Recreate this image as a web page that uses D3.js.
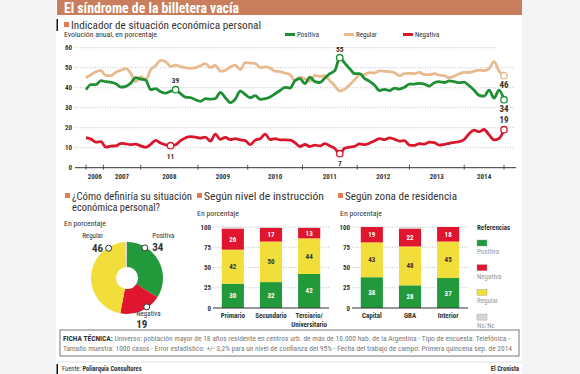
<!DOCTYPE html>
<html>
<head>
<meta charset="utf-8">
<script src="https://cdn.jsdelivr.net/npm/d3@7"></script>
<style>
body { margin: 0; background: #f4f4f4; }
svg { display: block; font-family: "Liberation Sans Narrow", "Roboto Condensed", Roboto, sans-serif; }
</style>
</head>
<body>
<svg id="chart" width="580" height="374"></svg>
<script>
// ---- data ----
var yearLabels = ["2006", "2007", "2008", "2009", "2010", "2011", "2012", "2013", "2014"];
// survey index where each year starts (last one = end of series)
var yearTicks = [0, 3.5, 11, 22.5, 32.5, 43.5, 54.5, 65, 76, 84];

var positiva = [39,41.5,41.5,43.5,43,42.7,42,40.3,40.7,42.3,45,44.3,43.8,39,39.5,38,37.3,38.2,39,37,
  35.3,35,34,33.2,34.5,34.3,34.6,37.6,35,32.5,34.3,38.3,36.6,35,36,34.2,34.5,35.4,37,38.6,
  40.2,39.8,43.5,44.5,42,45.3,43,42.6,44.8,47,48.5,55,52.3,49.5,47,47,44.5,43.2,41.2,38.6,
  39.2,38.5,39.8,39.3,40.2,41.8,41.8,42.2,41.8,40.8,42.5,43,42.6,43.4,43,42.5,42.8,41,38.7,36.2,
  35.8,38.8,34.8,38.8,34];
var regular = [45,46.5,48,48.5,46,46,47.7,48.7,49.5,47.2,43,45.5,44,49,51,53.7,53,50.7,51.3,50.5,
  50,49.7,50,51,52,50,51.2,48.3,48.7,50.3,51.3,49,52.5,52.3,52.2,50,50.4,49.8,48.3,48,
  47.3,46.5,43.5,45.3,44.4,43.3,46.2,45.6,46,43.5,41,38.3,39.3,41.5,44,46.5,46.6,47.5,47.4,48.4,
  48.2,48,47.5,46,47,47.2,47,47.7,46.5,46.5,47,46.3,46,45,45.8,47,47.7,47.6,48.3,48.8,
  48.5,49.5,53,48.3,46];
var negativa = [15,14.3,12.8,13,10.3,10.8,10.9,12.2,11.9,11.5,11.8,10.9,10.2,11.7,13.7,12.3,11.4,11,11.5,13.5,
  15,15.5,15.3,14.8,15.3,13.3,16.8,14.2,15.2,14,14.5,13.9,13.5,11.5,13.8,14.5,16.8,14,14.5,13.9,
  13.9,13.8,12.5,10.6,11.6,10.6,11.3,10.9,12,10.9,9.6,7,9.8,10.3,10.7,11.9,11.5,12.3,13.5,14.5,
  14,14.9,14.2,13.3,13.5,11.3,11.2,12,11.8,12.8,12.5,11.3,11.7,12.2,12.7,13,14.1,17,18.8,18,
  19.1,16.4,13.9,14.6,19];

var donutLabels = ["Positiva", "Negativa", "Regular", "Ns/Nc"];
var donutValues = [34, 19, 46, 1];

var instruccionCats = ["Primario", "Secundario", "Terciario/Universitario"];
var instPositiva = [30, 32, 42];
var instRegular = [42, 50, 44];
var instNegativa = [26, 17, 13];
var instNsNc = [2, 1, 1];

var zonaCats = ["Capital", "GBA", "Interior"];
var zonaPositiva = [38, 28, 37];
var zonaRegular = [43, 48, 45];
var zonaNegativa = [19, 22, 18];
var zonaNsNc = [0, 2, 0];

var barTicks = [0, 25, 50, 75, 100];
var lineTicks = [0, 10, 20, 30, 40, 50, 60];

// ---- colours ----
var cLine = { positiva: "#1f8f33", regular: "#e8ba8d", negativa: "#d8172d" };
var cBar = { positiva: "#22993b", regular: "#f2de3a", negativa: "#e0162e", nsnc: "#d6d6d6" };
var cOrange = "#e07b53";
var cText = "#333";

var svg = d3.select("#chart");

// squeeze a text to the width it has in the print
function fit(t, w) {
  return t.attr("textLength", w).attr("lengthAdjust", "spacingAndGlyphs");
}

svg.append("rect").attr("x", 56).attr("y", 0).attr("width", 466).attr("height", 374).attr("fill", "#fff");

// title bar
svg.append("rect").attr("x", 57).attr("y", 0).attr("width", 465).attr("height", 15).attr("fill", "#c97f5e");
fit(svg.append("text").attr("x", 64).attr("y", 12.5).attr("fill", "#fff")
  .attr("font-size", 14.5).attr("font-weight", "bold").text("El síndrome de la billetera vacía"), 175);

function heading(x, y, lines, widths) {
  svg.append("rect").attr("x", x).attr("y", y - 6.5).attr("width", 5).attr("height", 5).attr("fill", cOrange);
  lines.forEach(function(l, i) {
    fit(svg.append("text").attr("x", x + 7).attr("y", y + i * 11.5).attr("font-size", lines.length > 1 ? 10.8 : 11.5)
      .attr("fill", cText).text(l), widths[i]);
  });
}
function small(x, y, t, w) {
  var s = svg.append("text").attr("x", x).attr("y", y).attr("font-size", 7).attr("fill", cText).text(t);
  if (w) fit(s, w);
}

svg.append("rect").attr("x", 56.5).attr("y", 19).attr("width", 1.5).attr("height", 12).attr("fill", "#111");
heading(64, 28.5, ["Indicador de situación económica personal"], [190]);
small(64, 36.5, "Evolución anual, en porcentaje", 93);

// ---- line chart ----
var x = d3.scaleLinear().domain([0, 84]).range([86, 504]);
var y = d3.scaleLinear().domain([0, 60]).range([167.7, 47.7]);

var grid = svg.append("g");
lineTicks.forEach(function(t) {
  if (t > 0) {
    grid.append("line").attr("x1", 75).attr("x2", t == 60 ? 496 : 515).attr("y1", y(t)).attr("y2", y(t))
      .attr("stroke", "#999").attr("stroke-width", 0.6).attr("stroke-dasharray", "1,1.5");
  }
  grid.append("text").attr("x", 72).attr("y", y(t) + 2.5).attr("text-anchor", "end")
    .attr("font-size", 7).attr("font-weight", "bold").attr("fill", cText).text(t);
});
svg.append("line").attr("x1", 75).attr("x2", 516).attr("y1", y(0)).attr("y2", y(0))
  .attr("stroke", "#333").attr("stroke-width", 1);
yearTicks.forEach(function(t) {
  svg.append("line").attr("x1", x(t)).attr("x2", x(t)).attr("y1", y(0) - 3).attr("y2", y(0) + 2)
    .attr("stroke", "#333").attr("stroke-width", 0.8);
});
yearLabels.forEach(function(l, i) {
  svg.append("text").attr("x", (x(yearTicks[i]) + x(yearTicks[i + 1])) / 2).attr("y", 178.5)
    .attr("text-anchor", "middle").attr("font-size", 7).attr("font-weight", "bold").attr("fill", cText).text(l);
});

var line = d3.line().x(function(d, i) { return x(i); }).y(function(d) { return y(d); }).curve(d3.curveMonotoneX);
[["regular", regular], ["positiva", positiva], ["negativa", negativa]].forEach(function(s) {
  svg.append("path").datum(s[1]).attr("d", line).attr("fill", "none")
    .attr("stroke", cLine[s[0]]).attr("stroke-width", 2.8).attr("stroke-linejoin", "round");
});

var marks = [
  { s: positiva, c: "positiva", i: 18, dy: -6.5 },
  { s: negativa, c: "negativa", i: 17, dy: 13 },
  { s: positiva, c: "positiva", i: 51, dy: -5.5 },
  { s: negativa, c: "negativa", i: 51, dy: 12 },
  { s: regular, c: "regular", i: 84, dy: 12.5 },
  { s: positiva, c: "positiva", i: 84, dy: 12.5 },
  { s: negativa, c: "negativa", i: 84, dy: -6.5 }
];
marks.forEach(function(m) {
  var v = m.s[m.i];
  svg.append("circle").attr("cx", x(m.i)).attr("cy", y(v)).attr("r", 3.2)
    .attr("fill", "#fff").attr("stroke", cLine[m.c]).attr("stroke-width", 1.3);
  svg.append("text").attr("x", x(m.i)).attr("y", y(v) + m.dy).attr("text-anchor", "middle")
    .attr("font-size", m.i == 84 ? 9 : 7.5).attr("font-weight", "bold").attr("fill", cText)
    .attr("stroke", "#fff").attr("stroke-width", 2).attr("paint-order", "stroke")
    .text(Math.round(v));
});

// legend
[["positiva", "Positiva", 285], ["regular", "Regular", 344], ["negativa", "Negativa", 403]].forEach(function(l) {
  svg.append("line").attr("x1", l[2]).attr("x2", l[2] + 10).attr("y1", 34.5).attr("y2", 34.5)
    .attr("stroke", cLine[l[0]]).attr("stroke-width", 3);
  svg.append("text").attr("x", l[2] + 12).attr("y", 37).attr("font-size", 7).attr("fill", cText).text(l[1]);
});

// ---- donut ----
heading(65, 199.5, ["¿Cómo definiría su situación", "económica personal?"], [120, 88]);
small(64, 226, "En porcentaje", 42);

var cx = 127, cy = 278, rOut = 36, rIn = 11;
var pie = d3.pie().sort(null)(donutValues);
var arc = d3.arc().innerRadius(rIn).outerRadius(rOut);
var donutColors = [cBar.positiva, cBar.negativa, cBar.regular, cBar.nsnc];
var dg = svg.append("g").attr("transform", "translate(" + cx + "," + cy + ")");
dg.selectAll("path").data(pie).enter().append("path").attr("d", arc)
  .attr("fill", function(d, i) { return donutColors[i]; });

// marker on the rim of each slice: fraction along the slice and where its texts sit
var donutMarks = [
  { i: 0, f: 0.25, lx: 7.5, ly: -10, vy: 3.5, anchor: "start" },
  { i: 2, f: 0.83, lx: -5.5, ly: -10, vy: 3.5, anchor: "end" },
  { i: 1, f: 0.34, lx: -10.5, ly: 9.5, vy: 21, anchor: "start" }
];
donutMarks.forEach(function(m) {
  var d = pie[m.i];
  var a = d.startAngle + (d.endAngle - d.startAngle) * m.f;
  var px = Math.sin(a) * (rOut - 1), py = -Math.cos(a) * (rOut - 1);
  dg.append("circle").attr("cx", px).attr("cy", py).attr("r", 3)
    .attr("fill", "#fff").attr("stroke", "#333").attr("stroke-width", 1);
  dg.append("text").attr("x", px + m.lx).attr("y", py + m.ly).attr("text-anchor", m.anchor)
    .attr("font-size", 7).attr("fill", cText).text(donutLabels[m.i]);
  dg.append("text").attr("x", px + m.lx).attr("y", py + m.vy).attr("text-anchor", m.anchor)
    .attr("font-size", 11).attr("font-weight", "bold").attr("fill", cText).text(donutValues[m.i]);
});

// ---- stacked bars ----
var yb = d3.scaleLinear().domain([0, 100]).range([308, 227]);
var keys = ["positiva", "regular", "negativa", "nsnc"];

function bars(cats, pos, reg, neg, ns, x0, x1) {
  var rows = cats.map(function(c, i) { return { cat: c, positiva: pos[i], regular: reg[i], negativa: neg[i], nsnc: ns[i] }; });
  var xb = d3.scaleBand().domain(cats).range([x0, x1]).paddingInner(0.42).paddingOuter(0.23);
  var g = svg.append("g");
  barTicks.forEach(function(t) {
    if (t > 0) {
      g.append("line").attr("x1", x0).attr("x2", x1).attr("y1", yb(t)).attr("y2", yb(t))
        .attr("stroke", "#999").attr("stroke-width", 0.6).attr("stroke-dasharray", "1,1.5");
    }
    g.append("text").attr("x", x0 - 2).attr("y", yb(t) + 2.5).attr("text-anchor", "end")
      .attr("font-size", 7).attr("font-weight", "bold").attr("fill", cText).text(t);
  });
  var stack = d3.stack().keys(keys)(rows);
  stack.forEach(function(layer) {
    g.selectAll(null).data(layer).enter().append("rect")
      .attr("x", function(d) { return xb(d.data.cat); })
      .attr("width", xb.bandwidth())
      .attr("y", function(d) { return yb(d[1]); })
      .attr("height", function(d) { return yb(d[0]) - yb(d[1]); })
      .attr("fill", cBar[layer.key]);
    if (layer.key != "nsnc") {
      g.selectAll(null).data(layer).enter().append("text")
        .attr("x", function(d) { return xb(d.data.cat) + xb.bandwidth() / 2; })
        .attr("y", function(d) { return (yb(d[0]) + yb(d[1])) / 2 + 2.5; })
        .attr("text-anchor", "middle").attr("font-size", 7).attr("font-weight", "bold")
        .attr("fill", layer.key == "regular" ? cText : "#fff")
        .text(function(d) { return d[1] - d[0]; });
    }
  });
  g.append("line").attr("x1", x0).attr("x2", x1).attr("y1", yb(0)).attr("y2", yb(0))
    .attr("stroke", "#333").attr("stroke-width", 1);
  cats.forEach(function(c) {
    var parts = c.split("/");
    parts.forEach(function(p, j) {
      g.append("text").attr("x", xb(c) + xb.bandwidth() / 2).attr("y", 318 + j * 9)
        .attr("text-anchor", "middle").attr("font-size", 7).attr("font-weight", "bold").attr("fill", cText)
        .text(j < parts.length - 1 ? p + "/" : p);
    });
  });
}

heading(197, 199.5, ["Según nivel de instrucción"], [120]);
small(197, 216, "En porcentaje", 42);
bars(instruccionCats, instPositiva, instRegular, instNegativa, instNsNc, 213, 329);

heading(338, 199.5, ["Según zona de residencia"], [112]);
small(340, 216, "En porcentaje", 42);
bars(zonaCats, zonaPositiva, zonaRegular, zonaNegativa, zonaNsNc, 352, 468);

// legend "Referencias"
svg.append("text").attr("x", 477).attr("y", 230).attr("font-size", 7).attr("font-weight", "bold")
  .attr("fill", cText).text("Referencias");
[["positiva", "Positiva"], ["negativa", "Negativa"], ["regular", "Regular"], ["nsnc", "Ns/Nc"]].forEach(function(r, i) {
  var yy = 240 + i * 24.7;
  svg.append("rect").attr("x", 477).attr("y", yy).attr("width", 10).attr("height", 6)
    .attr("fill", cBar[r[0]]).attr("stroke", "#999").attr("stroke-width", 0.4);
  svg.append("text").attr("x", 477).attr("y", yy + 14).attr("font-size", 7).attr("fill", "#999").text(r[1]);
});

// ---- ficha técnica ----
svg.append("rect").attr("x", 60).attr("y", 330).attr("width", 459).attr("height", 26)
  .attr("fill", "none").attr("stroke", "#777").attr("stroke-width", 1);
var f1 = fit(svg.append("text").attr("x", 63).attr("y", 340.5).attr("font-size", 6.3).attr("fill", "#777"), 447);
f1.append("tspan").attr("font-weight", "bold").attr("fill", cText).text("FICHA TÉCNICA: ");
f1.append("tspan").text("Universo: población mayor de 18 años residente en centros urb. de más de 10.000 hab. de la Argentina  -  Tipo de encuesta: Telefónica  -");
fit(svg.append("text").attr("x", 63).attr("y", 350.5).attr("font-size", 6.3).attr("fill", "#777")
  .text("Tamaño muestra: 1000 casos  -  Error estadístico: +/- 3,2% para un nivel de confianza del 95%  -  Fecha del trabajo de campo: Primera quincena sep. de 2014"), 449);

// ---- footer ----
svg.append("line").attr("x1", 57).attr("x2", 522).attr("y1", 362).attr("y2", 362).attr("stroke", "#ccc").attr("stroke-width", 0.6);
svg.append("rect").attr("x", 56.5).attr("y", 364).attr("width", 1.5).attr("height", 10).attr("fill", "#111");
var ft = svg.append("text").attr("x", 62).attr("y", 371).attr("font-size", 6.5).attr("fill", cText);
ft.append("tspan").text("Fuente: ");
ft.append("tspan").attr("font-weight", "bold").text("Poliarquía Consultores");
svg.append("text").attr("x", 519).attr("y", 371).attr("text-anchor", "end").attr("font-size", 6.5)
  .attr("font-weight", "bold").attr("fill", cText).text("El Cronista");
</script>
</body>
</html>
